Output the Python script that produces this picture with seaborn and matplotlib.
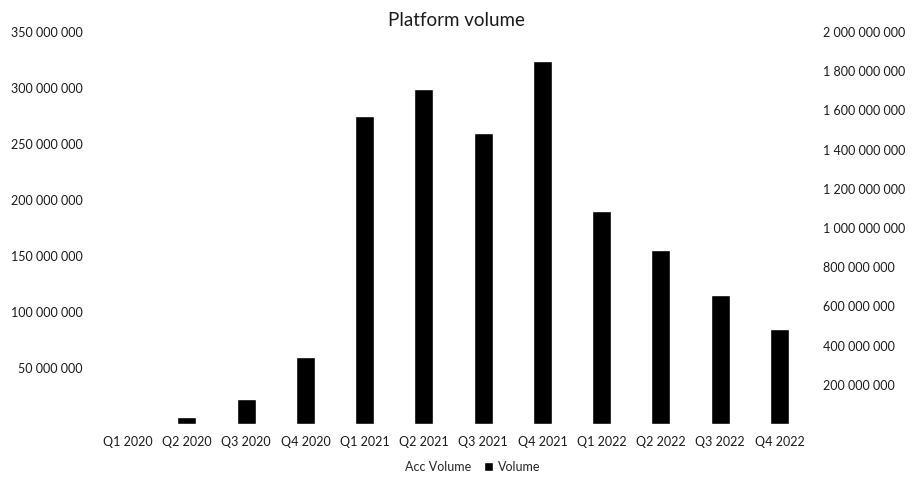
import matplotlib
matplotlib.use("Agg")
import matplotlib.pyplot as plt
import matplotlib.ticker as mticker
from matplotlib.lines import Line2D
from matplotlib.patches import Patch
import seaborn as sns
import pandas as pd

quarters = ["Q1 2020", "Q2 2020", "Q3 2020", "Q4 2020",
            "Q1 2021", "Q2 2021", "Q3 2021", "Q4 2021",
            "Q1 2022", "Q2 2022", "Q3 2022", "Q4 2022"]
volume = [0, 6_000_000, 22_000_000, 60_000_000,
          275_000_000, 299_000_000, 260_000_000, 324_000_000,
          190_000_000, 155_000_000, 115_000_000, 85_000_000]
acc_volume = [0, 6_000_000, 28_000_000, 88_000_000,
              363_000_000, 662_000_000, 922_000_000, 1_246_000_000,
              1_436_000_000, 1_591_000_000, 1_706_000_000, 1_791_000_000]

df = pd.DataFrame({"Quarter": quarters, "Volume": volume, "Acc Volume": acc_volume})

sns.set_theme(style="white")
plt.rcParams["font.family"] = ["Lato", "DejaVu Sans"]

fig = plt.figure(figsize=(9.13, 4.82), dpi=100)
ax = fig.add_axes([98 / 913, 1 - 424 / 482, (809 - 98) / 913, (424 - 32) / 482])

sns.barplot(data=df, x="Quarter", y="Volume", color="black", width=0.32,
            saturation=1, ax=ax)
ax.set_ylim(0, 350_000_000)
ax.set_xlim(-0.5, len(quarters) - 0.5)

# Cumulative volume on the secondary axis (series kept without a visible stroke)
ax2 = ax.twinx()
ax2.plot(df["Quarter"], df["Acc Volume"], linestyle="none", marker=None)
ax2.set_ylim(0, 2_000_000_000)

def spaced(v, _pos):
    if v == 0:
        return ""
    return f"{int(v):,}".replace(",", " ")

ax.yaxis.set_major_locator(mticker.MultipleLocator(50_000_000))
ax.yaxis.set_major_formatter(mticker.FuncFormatter(spaced))
ax2.yaxis.set_major_locator(mticker.MultipleLocator(200_000_000))
ax2.yaxis.set_major_formatter(mticker.FuncFormatter(spaced))

for a in (ax, ax2):
    for s in a.spines.values():
        s.set_visible(False)
    a.grid(False)
    a.tick_params(axis="both", length=0, labelsize=9, colors="#1a1a1a")
    a.set_xlabel("")
    a.set_ylabel("")
ax.tick_params(axis="y", pad=11)
ax2.tick_params(axis="y", pad=10)
ax.tick_params(axis="x", pad=9)

fig.text(0.5, 1 - 20 / 482, "Platform volume", ha="center", va="center",
         fontsize=13.5, color="#1a1a1a")

handles = [Line2D([], [], linestyle="none", label="Acc Volume"),
           Patch(facecolor="black", label="Volume")]
fig.legend(handles=handles, loc="center", bbox_to_anchor=(0.51, 1 - 467 / 482),
           ncol=2, frameon=False, fontsize=9, handlelength=0.7,
           handleheight=0.7, columnspacing=1.0, handletextpad=0.4)

fig.savefig("out.png", dpi=100)
